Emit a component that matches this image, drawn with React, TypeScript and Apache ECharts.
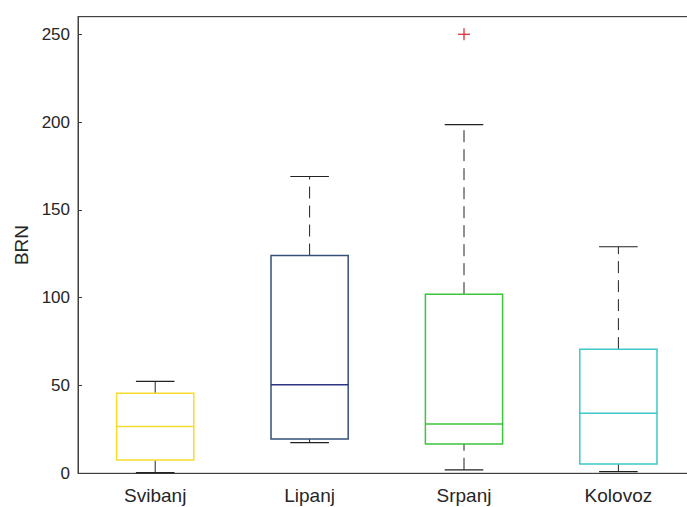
import React, { useEffect, useRef } from "react";
import * as echarts from "echarts";

const categories = ["Svibanj", "Lipanj", "Srpanj", "Kolovoz"];
const lowerWhisker = [0.4, 17.5, 2, 0.9];
const q1 = [7.6, 19.6, 16.7, 5.3];
const median = [26.6, 50.4, 28.1, 34.2];
const q3 = [45.6, 124, 102, 70.7];
const upperWhisker = [52.3, 169, 198.6, 129];
const outlierCategory = [2];
const outlierValue = [250];
const yTicks = [0, 50, 100, 150, 200, 250];

const boxColors = ["#f7dc2c", "#34507a", "#3cc43c", "#3cc8c8"];
const medianColors = ["#f7dc2c", "#2c3484", "#3cc43c", "#3cc8c8"];

const FONT = "'Liberation Sans', Arial, Helvetica, sans-serif";
const TEXT = "#262626";
const AXIS = "#404040";

export default function App() {
  const ref = useRef<HTMLDivElement>(null);
  useEffect(() => {
    if (!ref.current) return;
    const chart = echarts.init(ref.current, null, { renderer: "svg" });
    const boxData = categories.map((_, i) => [i, lowerWhisker[i], q1[i], median[i], q3[i], upperWhisker[i]]);
    const outData = outlierCategory.map((c, k) => [c, outlierValue[k]]);
    chart.setOption({
      animation: false,
      backgroundColor: "#ffffff",
      grid: {
        left: 78,
        top: 16.7,
        width: 617.6,
        height: 456.6,
        outerBoundsMode: "none",
        containLabel: false,
        show: true,
        borderColor: AXIS,
        borderWidth: 1,
        backgroundColor: "transparent",
      },
      xAxis: [
        {
          type: "category",
          data: categories,
          position: "bottom",
          axisLine: { lineStyle: { color: AXIS, width: 1 } },
          axisTick: { inside: true, alignWithLabel: true, length: 4, lineStyle: { color: AXIS } },
          axisLabel: { color: TEXT, fontFamily: FONT, fontSize: 19, margin: 13 },
          splitLine: { show: false },
        },
        {
          type: "category",
          data: categories,
          position: "top",
          axisLine: { lineStyle: { color: AXIS, width: 1 } },
          axisTick: { inside: true, alignWithLabel: true, length: 4, lineStyle: { color: AXIS } },
          axisLabel: { show: false },
          splitLine: { show: false },
        },
      ],
      yAxis: {
        type: "value",
        min: 0,
        max: 260,
        interval: 50,
        name: "BRN",
        nameLocation: "middle",
        nameRotate: 90,
        nameGap: 47,
        nameTextStyle: { color: TEXT, fontFamily: FONT, fontSize: 19 },
        axisLine: { show: true, lineStyle: { color: AXIS, width: 1 } },
        axisTick: { show: true, inside: true, length: 4, lineStyle: { color: AXIS } },
        axisLabel: {
          color: TEXT,
          fontFamily: FONT,
          fontSize: 17,
          margin: 8,
          formatter: (v: number) => (yTicks.indexOf(v) >= 0 ? String(v) : ""),
        },
        splitLine: { show: false },
      },
      series: [
        {
          type: "custom",
          xAxisIndex: 0,
          data: boxData,
          encode: { x: 0, y: [1, 2, 3, 4, 5] },
          renderItem: (params: any, api: any) => {
            const i = api.value(0);
            const band = api.size([1, 0])[0];
            const cx = api.coord([i, 0])[0];
            const y = (v: number) => api.coord([i, v])[1];
            const bw = band * 0.5;
            const cw = band * 0.25;
            const yLo = y(api.value(1));
            const yQ1 = y(api.value(2));
            const yMed = y(api.value(3));
            const yQ3 = y(api.value(4));
            const yHi = y(api.value(5));
            const col = boxColors[i];
            const mcol = medianColors[i];
            const dash = { stroke: "#222", lineWidth: 1, lineDash: [12, 7] };
            const solid = { stroke: "#222", lineWidth: 1.2 };
            return {
              type: "group",
              children: [
                { type: "line", shape: { x1: cx, y1: yQ3, x2: cx, y2: yHi }, style: dash },
                { type: "line", shape: { x1: cx, y1: yLo, x2: cx, y2: yQ1 }, style: dash },
                { type: "line", shape: { x1: cx - cw / 2, y1: yHi, x2: cx + cw / 2, y2: yHi }, style: solid },
                { type: "line", shape: { x1: cx - cw / 2, y1: yLo, x2: cx + cw / 2, y2: yLo }, style: solid },
                {
                  type: "rect",
                  shape: { x: cx - bw / 2, y: yQ3, width: bw, height: yQ1 - yQ3 },
                  style: { fill: "none", stroke: col, lineWidth: 1.5 },
                },
                { type: "line", shape: { x1: cx - bw / 2, y1: yMed, x2: cx + bw / 2, y2: yMed }, style: { stroke: mcol, lineWidth: 1.5 } },
              ],
            };
          },
        },
        {
          type: "custom",
          xAxisIndex: 0,
          data: outData,
          encode: { x: 0, y: 1 },
          renderItem: (params: any, api: any) => {
            const p = api.coord([api.value(0), api.value(1)]);
            const s = 6;
            const st = { stroke: "#e0202a", lineWidth: 1.2 };
            return {
              type: "group",
              children: [
                { type: "line", shape: { x1: p[0] - s, y1: p[1], x2: p[0] + s, y2: p[1] }, style: st },
                { type: "line", shape: { x1: p[0], y1: p[1] - s, x2: p[0], y2: p[1] + s }, style: st },
              ],
            };
          },
        },
      ],
    });
    return () => chart.dispose();
  }, []);
  return <div ref={ref} style={{ width: 687, height: 507, position: "absolute", left: 0, top: 0 }} />;
}
